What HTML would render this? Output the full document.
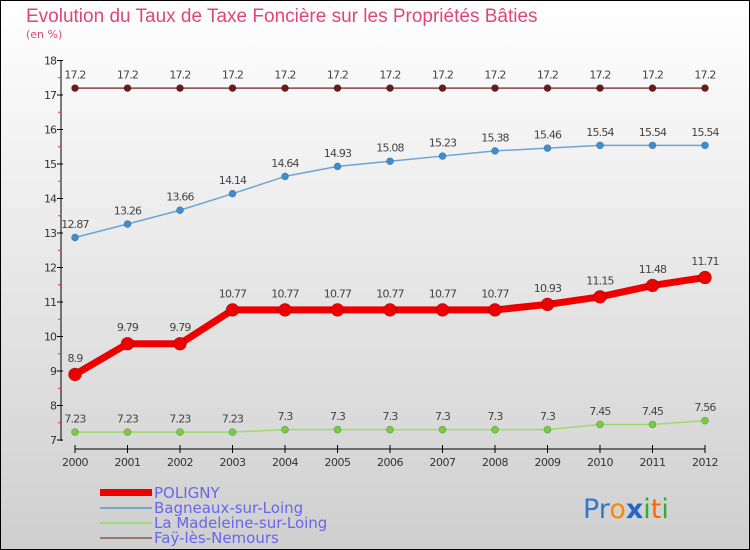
<!DOCTYPE html>
<html><head><meta charset="utf-8"><style>
body{margin:0;width:750px;height:550px;overflow:hidden}
svg{display:block;font-family:"DejaVu Sans","Liberation Sans",sans-serif}
</style></head><body>
<svg id="c" width="750" height="550" viewBox="0 0 750 550">
<defs><linearGradient id="bg" x1="0" y1="0" x2="0" y2="1"><stop offset="0" stop-color="#ffffff"/><stop offset="1" stop-color="#cfcfcf"/></linearGradient></defs>
<rect x="0.5" y="0.5" width="749" height="549" fill="url(#bg)" stroke="#000"/>
<text x="26" y="22" font-size="19" fill="#e0457a" style="font-family:'Liberation Sans',sans-serif">Evolution du Taux de Taxe Foncière sur les Propriétés Bâties</text>
<text x="26" y="38" font-size="11" fill="#e0457a">(en %)</text>
<g id="axes"></g><g id="series"></g>
<g>
<rect x="100" y="489" width="52" height="7" fill="#ee0000"/>
<text x="154" y="498" font-size="15" fill="#6666ee">POLIGNY</text>
<rect x="100" y="507" width="52" height="2" fill="#77a7cc"/>
<text x="154" y="513" font-size="15" fill="#6666ee">Bagneaux-sur-Loing</text>
<rect x="100" y="522" width="52" height="2" fill="#99dd77"/>
<text x="154" y="528" font-size="15" fill="#6666ee">La Madeleine-sur-Loing</text>
<rect x="100" y="537" width="52" height="2" fill="#997777"/>
<text x="154" y="543" font-size="15" fill="#6666ee">Faÿ-lès-Nemours</text>
</g>
<text x="583" y="518" font-size="27"><tspan fill="#3377cc">Pr</tspan><tspan fill="#ff8800">o</tspan><tspan fill="#2266cc" font-weight="bold">x</tspan><tspan fill="#33aa33">i</tspan><tspan fill="#ff6600">t</tspan><tspan fill="#33aa33">i</tspan></text>
</svg>
<script>
const years=[2000,2001,2002,2003,2004,2005,2006,2007,2008,2009,2010,2011,2012];
const poligny=[8.9,9.79,9.79,10.77,10.77,10.77,10.77,10.77,10.77,10.93,11.15,11.48,11.71];
const bagneaux=[12.87,13.26,13.66,14.14,14.64,14.93,15.08,15.23,15.38,15.46,15.54,15.54,15.54];
const madeleine=[7.23,7.23,7.23,7.23,7.3,7.3,7.3,7.3,7.3,7.3,7.45,7.45,7.56];
const fay=[17.2,17.2,17.2,17.2,17.2,17.2,17.2,17.2,17.2,17.2,17.2,17.2,17.2];
const yTicks=[7,8,9,10,11,12,13,14,15,16,17,18];
const NS='http://www.w3.org/2000/svg';
const x=i=>75+i*52.5;
const y=v=>440-(v-7)*34.5;
function mk(tag,attrs,parent){const e=document.createElementNS(NS,tag);for(const k in attrs)e.setAttribute(k,attrs[k]);parent.appendChild(e);return e;}
const ax=document.getElementById('axes');
let l=mk('line',{x1:61,y1:60,x2:61,y2:441,stroke:'#000'},ax);


yTicks.forEach(t=>{
 let tk=mk('line',{x1:57,x2:63,y1:y(t),y2:y(t),stroke:'#000'},ax);
 
 
 let tx=mk('text',{x:56,y:y(t)+4,'font-size':11,'text-anchor':'end',fill:'#333','letter-spacing':'-1'},ax);
 tx.textContent=t;
 
 
 if(t<18){let m=mk('line',{x1:58,x2:61,y1:y(t+0.5),y2:y(t+0.5),stroke:'#e33'},ax);
 
 }
});
let xa=mk('line',{x1:x(0),y1:449,x2:x(years.length-1),y2:449,stroke:'#000'},ax);


years.forEach((yr,i)=>{
 let tk=mk('line',{x1:x(i),x2:x(i),y1:445,y2:453,stroke:'#000'},ax);
 
 
 let tx=mk('text',{x:x(i),y:466,'font-size':11,'text-anchor':'middle',fill:'#333','letter-spacing':'-0.5'},ax);
 tx.textContent=yr;
 
 
});
const sg=document.getElementById('series');
function series(vals,color,w,r,dot,name){
 const g=mk('g',{},sg);
 
 
 let p=mk('polyline',{points:vals.map((v,i)=>x(i)+','+y(v)).join(' '),fill:'none',stroke:color,'stroke-width':w,'stroke-linejoin':'round'},g);
 
 
 vals.forEach((v,i)=>{
  let c=mk('circle',{cx:x(i),cy:y(v),r:r,fill:dot,stroke:'rgba(0,0,0,0.3)','stroke-width':0.6},g);
  
  
  let t=mk('text',{x:x(i),y:y(v)-(r+6),'font-size':11,'text-anchor':'middle',fill:'#444','letter-spacing':'-0.8'},g);
  t.textContent=v;
  
  
 });
}
series(fay,'#884444',1.5,3.5,'#6b1a1a','fay');
series(bagneaux,'#6aa5d6',1.5,3.5,'#3d8ed0','bagneaux');
series(madeleine,'#99dd66',1.5,3.5,'#77cc44','madeleine');
series(poligny,'#ee0000',7,6.5,'#ee0000','poligny');
</script>
</body></html>
